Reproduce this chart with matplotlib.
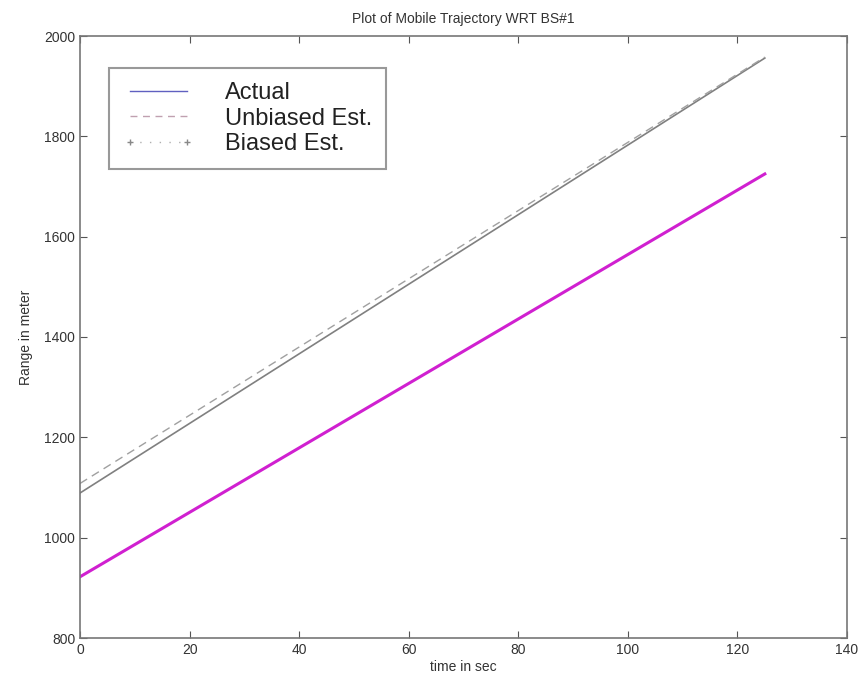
import matplotlib
matplotlib.use('Agg')
from matplotlib import pyplot as plt

# values (straight trajectories, end points)
time_sec = [0, 125]
actual_range = [1089, 1956]
unbiased_range = [1108, 1958]
biased_range = [922, 1725]

x_ticks = [0, 20, 40, 60, 80, 100, 120, 140]
y_ticks = [800, 1000, 1200, 1400, 1600, 1800, 2000]

plt.rcParams['font.family'] = ['Liberation Sans', 'DejaVu Sans']

fig = plt.figure(figsize=(8.64, 6.88), dpi=100)
ax = fig.add_axes([80 / 864, 50 / 688, 767 / 864, 602 / 688])

ax.plot(time_sec, actual_range, color='#808080', lw=1.2)
ax.plot(time_sec, unbiased_range, color='#a0a0a0', lw=1.0, ls=(0, (6, 4)))
ax.plot(time_sec, biased_range, color='#d020d0', lw=2.2)

ax.set_xlim(0, 140)
ax.set_ylim(800, 2000)
ax.set_xticks(x_ticks)
ax.set_yticks(y_ticks)
ax.tick_params(direction='in', top=True, right=True, length=5, colors='#555555',
               labelcolor='#333333', labelsize=10)
for s in ax.spines.values():
    s.set_color('#777777')
    s.set_linewidth(1.2)

ax.set_title('Plot of Mobile Trajectory WRT BS#1', fontsize=10, color='#333333', pad=9)
ax.set_xlabel('time in sec', fontsize=10, color='#333333', labelpad=2)
ax.set_ylabel('Range in meter', fontsize=10, color='#333333', labelpad=8)

# legend drawn with proxy handles like the original
h1, = ax.plot([], [], color='#6060c0', lw=1.0)
h2, = ax.plot([], [], color='#c0a0b0', lw=1.0, ls=(0, (5, 4)))
h3, = ax.plot([], [], color='#b0b0b0', lw=1.0, ls=(0, (1, 6)), marker='+',
              markersize=5, markeredgecolor='#888888')
leg = ax.legend([h1, h2, h3], ['Actual', 'Unbiased Est.', 'Biased Est.'],
                loc='upper left', bbox_to_anchor=((109 - 80) / 767, 1 - (68 - 36) / 602),
                borderaxespad=0, fontsize=17, handlelength=3.0, handletextpad=1.3,
                labelspacing=0.15, borderpad=0.6, fancybox=False, numpoints=2,
                framealpha=1, edgecolor='#999999')
leg.get_frame().set_linewidth(1.5)
for t in leg.get_texts():
    t.set_color('#222222')

fig.savefig('out.png', dpi=100, facecolor='white')
